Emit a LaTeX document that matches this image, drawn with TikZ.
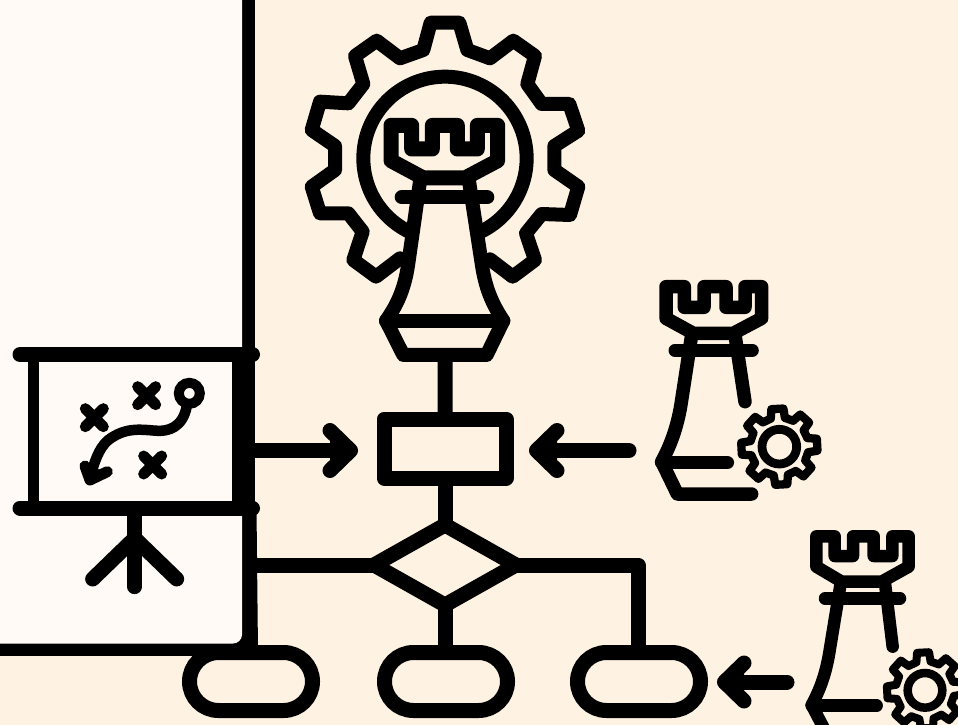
\documentclass[tikz,border=0pt]{standalone}
\definecolor{bgc}{HTML}{FEF2E3}
\definecolor{panelc}{HTML}{FFFAF5}
\tikzset{
  ink/.style={draw=black,line cap=round,line join=round},
  zoomone/.style={shift={(290,0)},x=0.33333pt,y=-0.33333pt},
  zoomtwo/.style={shift={(640,270)},x=0.33333pt,y=-0.33333pt},
  zoomfour/.style={shift={(780,520)},x=0.33333pt,y=-0.33333pt},
  zoomboard/.style={shift={(0,340)},x=0.33333pt,y=-0.33333pt},
}
\newcommand{\cogwheel}[4]{% cx cy rot width
  \draw[ink,line width=#4,shift={(#1,#2)},rotate=#3]
    (-14:88) \foreach \a in {0,45,...,315} { -- ({\a-14}:88) -- ({\a-9}:115) -- ({\a+9}:115) -- ({\a+14}:88) } -- cycle;
  \draw[line width=#4+0.5pt] (#1,#2) circle[radius=52];
}
\begin{document}
\begin{tikzpicture}[x=1pt,y=-1pt]
\useasboundingbox (0,0) rectangle (958,725);
\fill[bgc] (0,0) rectangle (958,725);
% left panel
\coordinate (ptop) at (248.5,-5);
\coordinate (pmid) at (248.5,508);
\coordinate (pbot) at (250,652);
\draw[line width=13pt] (ptop) -- (pmid);
\draw[line width=16pt] (pmid) -- (pbot);
\draw[line width=13pt] (-5,649.5) -- (240,649.5);
\fill (225,625) rectangle (245,645);
\fill[panelc,rounded corners=9pt] (-20,-20) rectangle (242,643.5);
% board
\fill (232,354) rectangle (255,508);
\draw[ink,line width=11pt,line cap=butt] (33.5,354) -- (33.5,508);
\draw[ink,line width=15pt] (20,354.5) -- (252.5,354.5);
\draw[ink,line width=15pt] (20,508) -- (252.5,508);
\begin{scope}[zoomboard]
  \draw[ink,line width=15pt] (404,530) -- (404,740);
  \draw[ink,line width=15pt] (278,717) -- (404,595) -- (530,717);
  \foreach \cx/\cy in {283/233,440/167,458/375}{
    \draw[ink,line width=11pt] (\cx-27,\cy-27) -- (\cx+27,\cy+27) (\cx-27,\cy+27) -- (\cx+27,\cy-27);
  }
  \draw[line width=10pt] (568,160) circle[radius=31.5];
  \draw[ink,line width=10.5pt] (560,200) .. controls (548,262) and (505,276) .. (465,272) .. controls (420,268) and (375,262) .. (325,300) .. controls (295,325) and (282,370) .. (270,415);
  \draw[ink,line width=11pt] (255,378) -- (270,420) -- (322,395);
  \fill (255,378) -- (270,420) -- (322,395) -- (285,385) -- cycle;
\end{scope}
% central gear, circle, rook
\begin{scope}[zoomone]
  \draw[ink,line width=14pt] (330,775) -- (258,830) -- (190,780) -- (218,695) -- (175,640) -- (90,640) -- (65,560) -- (135,510) -- (135,438) -- (65,390) -- (90,305) -- (175,310) -- (220,252) -- (195,168) -- (260,122) -- (330,175) -- (400,150) -- (422,68) -- (508,68) -- (532,150) -- (600,175) -- (670,122) -- (735,168) -- (712,252) -- (755,312) -- (838,312) -- (865,392) -- (793,438) -- (793,510) -- (865,560) -- (840,645) -- (755,642) -- (708,700) -- (735,780) -- (668,830) -- (600,778);
  \draw[line width=14pt] (465,475) circle[radius=245];
  % rook body
  \fill[bgc] (392,530) -- (355,790) .. controls (345,860) and (325,910) .. (288,962) -- (340,1065) -- (590,1065) -- (640,962) .. controls (605,910) and (585,860) .. (575,790) -- (535,530) -- cycle;
  \draw[ink,line width=14pt] (392,530) -- (355,790) .. controls (345,860) and (325,910) .. (288,962) -- (340,1065) -- (590,1065) -- (640,962) .. controls (605,910) and (585,860) .. (575,790) -- (535,530);
  \draw[ink,line width=14pt] (288,962) -- (640,962);
  \draw[ink,line width=14pt] (335,592) -- (592,592);
  \draw[ink,line width=15pt] (303,376) -- (365,376) -- (365,447) -- (427,447) -- (427,376) -- (502,376) -- (502,447) -- (562,447) -- (562,376) -- (623,376) -- (623,482) -- (525,534) -- (400,534) -- (303,482) -- cycle;
  \coordinate (rookfoot) at (465,1065);
\end{scope}
% flow part
\coordinate (boxtop) at (445,419);
\coordinate (boxbot) at (445,478);
\coordinate (dtop) at (445,525);
\coordinate (dleft) at (374,565);
\coordinate (dright) at (516,565);
\coordinate (dbot) at (445,605);
\draw[line width=15pt] (rookfoot) -- (boxtop);
\draw[line width=15pt] (boxbot) -- (dtop);
\draw[ink,line width=15pt] (384,419) rectangle (506,478);
\draw[ink,line width=15pt] (dtop) -- (dright) -- (dbot) -- (dleft) -- cycle;
\draw[line width=15pt] (dleft) -- (250,565);
\draw[line width=15pt,line join=round] (dright) -- (638,565) -- (638,655);
\draw[line width=15pt] (dbot) -- (445,655);
\foreach \px in {251,446,639}{
  \draw[line width=15pt,rounded corners=29pt] (\px-61.5,652.5) rectangle (\px+61.5,710.5);
}
% arrows
\draw[ink,line width=15pt] (255,450.5) -- (350,450.5);
\draw[ink,line width=15pt,fill=black] (330,430.5) -- (350.5,450.5) -- (330,470.5);
\draw[ink,line width=15pt] (629,450.5) -- (537,450.5);
\draw[ink,line width=15pt,fill=black] (557,430.5) -- (536.5,450.5) -- (557,470.5);
\draw[ink,line width=15pt] (787,682) -- (725,682);
\draw[ink,line width=15pt,fill=black] (744,663) -- (724.5,682) -- (744,701);
% second rook
\begin{scope}[zoomtwo]
  \draw[ink,line width=13.5pt] (78,50) -- (133,50) -- (133,112) -- (192,112) -- (192,50) -- (258,50) -- (258,112) -- (315,112) -- (315,50) -- (365,50) -- (365,145) -- (280,190) -- (160,190) -- (78,145) -- cycle;
  \draw[ink,line width=13pt] (105,241) -- (337,241);
  \draw[ink,line width=13.5pt] (155,195) -- (125,390) .. controls (115,460) and (95,520) .. (65,575) -- (112,672) -- (335,672);
  \draw[ink,line width=13.5pt] (65,578) -- (262,578);
  \draw[ink,line width=13.5pt] (285,195) -- (315,395);
  \cogwheel{418}{530}{3}{8.3pt}
\end{scope}
% third rook
\begin{scope}[zoomfour]
  \draw[ink,line width=12.5pt] (109,49) -- (164,49) -- (164,108) -- (219,108) -- (219,49) -- (281,49) -- (281,108) -- (337,108) -- (337,49) -- (386,49) -- (386,140) -- (305,185) -- (185,185) -- (109,140) -- cycle;
  \draw[ink,line width=12.5pt] (135,235) -- (360,235);
  \draw[ink,line width=12.5pt] (182,190) -- (150,385) .. controls (140,450) and (125,500) .. (95,555) -- (150,660);
  \draw[ink,line width=12.5pt] (95,557) -- (290,557);
  \draw[ink,line width=12.5pt] (315,190) -- (338,380);
  \cogwheel{435}{511}{3}{8pt}
\end{scope}
\end{tikzpicture}
\end{document}
